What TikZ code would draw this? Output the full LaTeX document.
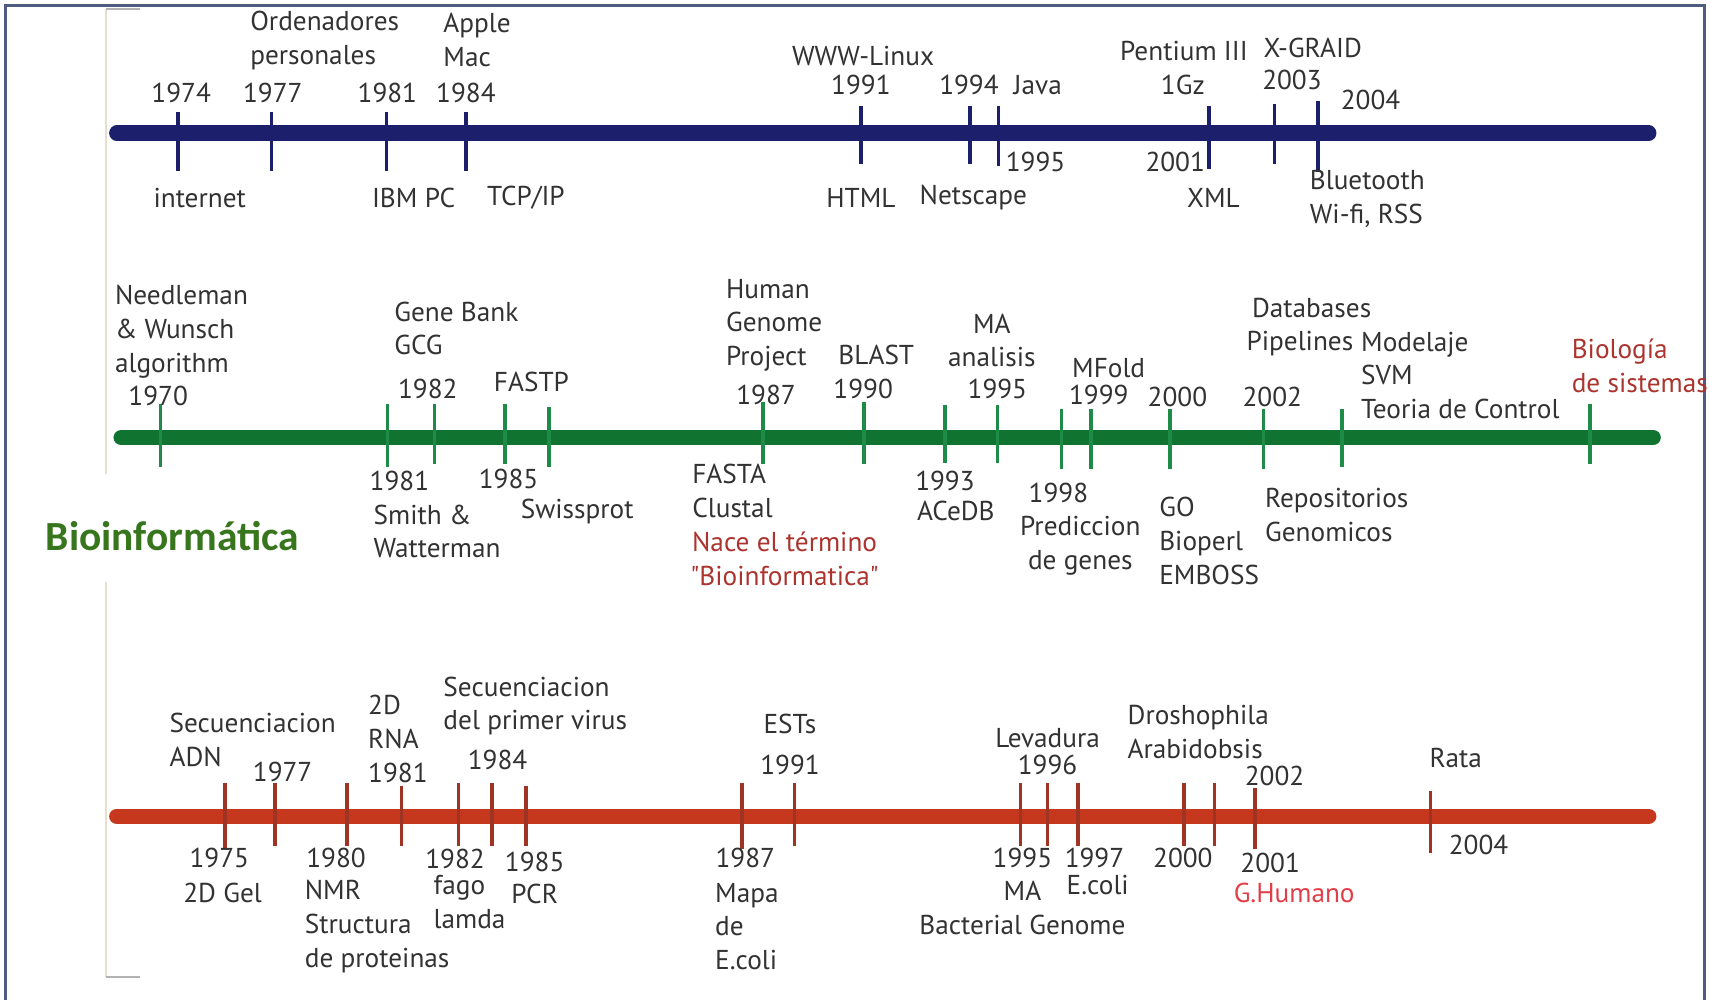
\documentclass[tikz,border=0pt]{standalone}
\usepackage{fontspec}
\setmainfont{PT Sans}[Ligatures=TeXOff]
\newfontfamily\titlefont{Carlito}
\definecolor{navy}{RGB}{28,32,108}
\definecolor{greenbar}{RGB}{16,116,48}
\definecolor{greentick}{RGB}{30,140,72}
\definecolor{redbar}{RGB}{198,56,30}
\definecolor{redtick}{RGB}{160,52,36}
\definecolor{txt}{RGB}{50,50,50}
\definecolor{redtxt}{RGB}{172,52,46}
\definecolor{pinktxt}{RGB}{225,62,72}
\definecolor{titlegreen}{RGB}{56,118,29}
\definecolor{framecol}{RGB}{78,92,128}
\definecolor{beige}{RGB}{232,222,204}
\begin{document}
\begin{tikzpicture}[x=0.5pt,y=-0.5pt,
  lbl/.style={font=\fontsize{12.5}{15.5}\selectfont, text=txt, inner sep=0pt, align=center},
  lblL/.style={lbl, anchor=west, align=left},
  titlestyle/.style={font=\titlefont\bfseries\fontsize{19}{22}\selectfont, text=titlegreen, inner sep=0pt},
  bar/.style={line width=7pt, line cap=round},
  tick/.style={line width=1.6pt}]
\useasboundingbox (0,0) rectangle (1568,916);
% outer frame and the thin page edge behind the timelines
\draw[framecol, line width=1pt] (5,930) -- (5,5) -- (1562,5) -- (1562,930);
\draw[beige, line width=0.8pt] (97,8) -- (97,434) (97,533) -- (97,895);
\draw[gray!60, line width=0.8pt] (97,8) -- (128,8) (97,895) -- (128,895);

% ---------- computing timeline ----------
\draw[bar, navy] (107,122) -- (1511,122);
\foreach \x/\a/\b in {163/103/157, 249/103/157, 354/103/157, 427/103/157,
  789/97/150, 889/97/150, 915/97/152, 1108/97/155, 1168/95/150, 1208/93/158}
  \draw[tick, navy] (\x,\a) -- (\x,\b);
\node[lblL] (ordenadores) at (229,37) {Ordenadores\\personales};
\node[lbl] (y1974a) at (166,85) {1974};
\node[lbl] (y1977a) at (250,85) {1977};
\node[lbl] (y1981a) at (355,85) {1981};
\node[lblL] (apple) at (406,37) {Apple\\Mac};
\node[lbl] (y1984a) at (427,85) {1984};
\node[lbl] (internet) at (183,181) {internet};
\node[lbl] (ibmpc) at (379,181) {IBM PC};
\node[lbl] (tcpip) at (482,181) {TCP/IP};
\node[lbl] (www) at (791,51) {WWW-Linux};
\node[lbl] (y1991a) at (789,78) {1991};
\node[lbl] (html) at (789,181) {HTML};
\node[lbl] (y1994a) at (888,78) {1994};
\node[lbl] (java) at (951,78) {Java};
\node[lbl] (y1995a) at (949,148) {1995};
\node[lbl] (netscape) at (892,181) {Netscape};
\node[lbl] (pentium) at (1085,47) {Pentium III};
\node[lbl] (onegz) at (1084,78) {1Gz};
\node[lbl] (y2001a) at (1077,148) {2001};
\node[lbl] (xml) at (1112,181) {XML};
\node[lbl] (xgraid) at (1203,44) {X-GRAID};
\node[lbl] (y2003a) at (1184,73) {2003};
\node[lbl] (y2004a) at (1256,92) {2004};
\node[lblL] (bluetooth) at (1200,182) {Bluetooth\\Wi-fi, RSS};

% ---------- bioinformatics timeline ----------
\draw[bar, greenbar] (111,401) -- (1515,401);
\foreach \x/\a/\b in {147/370/428, 355/370/428, 398/370/425, 463/370/425, 503/373/428,
  699/368/425, 792/368/425, 866/371/424, 914/371/424, 973/375/430, 1000/375/430,
  1072/375/430, 1158/375/430, 1230/375/428, 1457/370/425}
  \draw[tick, greentick] (\x,\a) -- (\x,\b);
\node[lblL] (needleman) at (105,304) {Needleman\\\&~Wunsch\\algorithm};
\node[lbl] (y1970) at (145,363) {1970};
\node[lblL] (genebank) at (361,301) {Gene Bank\\GCG};
\node[lbl] (y1982b) at (392,356) {1982};
\node[lbl] (fastp) at (487,350) {FASTP};
\node[lbl] (y1981b) at (366,441) {1981};
\node[lblL] (smith) at (342,487) {Smith \&\\Watterman};
\node[lbl] (y1985b) at (466,439) {1985};
\node[lbl] (swissprot) at (529,469) {Swissprot};
\node[lblL] (hgp) at (665,298) {Human\\Genome\\Project};
\node[lbl] (y1987b) at (702,362) {1987};
\node[lbl] (blast) at (803,325) {BLAST};
\node[lbl] (y1990b) at (791,356) {1990};
\node[lbl] (maan) at (909,312) {MA\\analisis};
\node[lbl] (y1995b) at (914,356) {1995};
\node[lbl] (mfold) at (1016,337) {MFold};
\node[lbl] (y1999b) at (1007,362) {1999};
\node[lbl] (y2000b) at (1079,364) {2000};
\node[lblL] (databases) at (1147,282) {Databases};
\node[lblL] (pipelines) at (1142,315) {Pipelines};
\node[lbl] (y2002b) at (1166,364) {2002};
\node[lblL] (modelaje) at (1247,344) {Modelaje\\SVM\\Teoria de Control};
\node[lblL, text=redtxt] (biosis) at (1440,335) {Biología\\de sistemas};
\node[lblL] (fasta) at (634,450) {FASTA\\Clustal};
\node[lbl, text=redtxt] (nace) at (719,512) {Nace el término\\"Bioinformatica"};
\node[lbl] (y1993b) at (866,441) {1993};
\node[lbl] (acedb) at (876,468) {ACeDB};
\node[lbl] (y1998b) at (970,452) {1998};
\node[lbl] (prediccion) at (990,500) {Prediccion\\de genes};
\node[lblL] (go) at (1062,496) {GO\\Bioperl\\EMBOSS};
\node[lblL] (repos) at (1159,472) {Repositorios\\Genomicos};
\node[titlestyle] (bioinf) at (158,491) {Bioinformática};

% ---------- molecular biology timeline ----------
\draw[bar, redbar] (107,748) -- (1511,748);
\foreach \x/\a/\b in {206/718/778, 252/718/775, 318/718/775, 368/720/775, 420/718/775,
  451/718/775, 482/720/775, 680/718/778, 728/718/775, 935/718/775, 960/718/775,
  988/718/775, 1085/718/775, 1113/718/775, 1150/722/778, 1311/725/782}
  \draw[tick, redtick] (\x,\a) -- (\x,\b);
\node[lblL] (secadn) at (155,678) {Secuenciacion\\ADN};
\node[lbl] (y1977c) at (259,707) {1977};
\node[lbl] (y1975c) at (201,786) {1975};
\node[lbl] (gel) at (204,818) {2D Gel};
\node[lbl] (y1980c) at (308,786) {1980};
\node[lblL] (nmr) at (279,849) {NMR\\Structura\\de proteinas};
\node[lblL] (rna) at (337,677) {2D\\RNA\\1981};
\node[lblL] (secvirus) at (406,647) {Secuenciacion\\del primer virus};
\node[lbl] (y1984c) at (456,696) {1984};
\node[lbl] (y1982c) at (417,787) {1982};
\node[lblL] (fago) at (397,827) {fago\\lamda};
\node[lbl] (y1985c) at (490,790) {1985};
\node[lbl] (pcr) at (490,819) {PCR};
\node[lbl] (y1987c) at (683,786) {1987};
\node[lblL] (mapa) at (655,849) {Mapa\\de\\E.coli};
\node[lbl] (ests) at (724,663) {ESTs};
\node[lbl] (y1991c) at (724,701) {1991};
\node[lbl] (levadura) at (960,676) {Levadura};
\node[lbl] (y1996c) at (960,701) {1996};
\node[lbl] (y1995c) at (937,786) {1995};
\node[lbl] (bacterial) at (937,832) {MA\\Bacterial Genome};
\node[lbl] (y1997c) at (1003,786) {1997};
\node[lbl] (ecoli) at (1006,811) {E.coli};
\node[lblL] (drosophila) at (1033,671) {Droshophila\\Arabidobsis};
\node[lbl] (y2002c) at (1168,711) {2002};
\node[lbl] (y2000c) at (1084,786) {2000};
\node[lbl] (y2001c) at (1164,791) {2001};
\node[lbl, text=pinktxt] (ghumano) at (1186,818) {G.Humano};
\node[lbl] (rata) at (1334,695) {Rata};
\node[lbl] (y2004c) at (1355,774) {2004};
\end{tikzpicture}
\end{document}
